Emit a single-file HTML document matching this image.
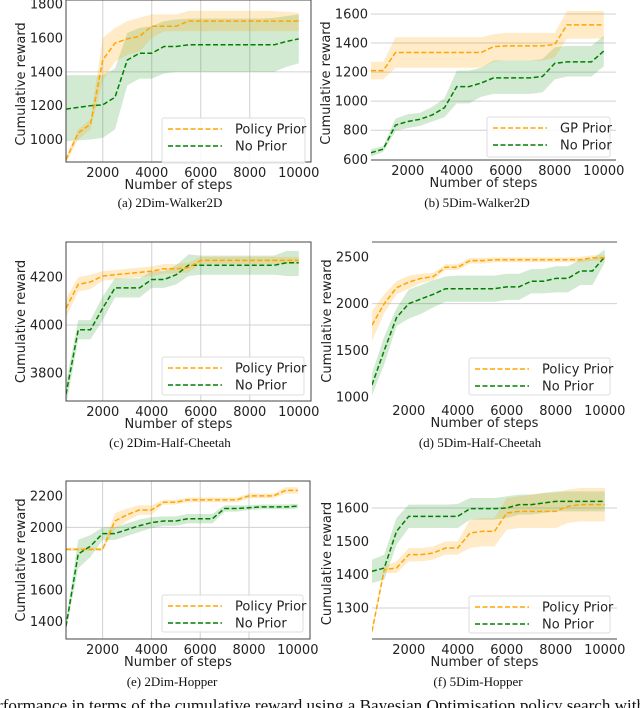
<!DOCTYPE html>
<html><head><meta charset="utf-8"><style>
body{margin:0;background:#fff;width:640px;height:708px;overflow:hidden;position:relative}
svg{position:absolute;left:0;top:0}
text{font-family:"DejaVu Sans","Liberation Sans",sans-serif;fill:#222}
.cap{font-family:"Liberation Serif",serif;font-size:13px;fill:#111}
</style></head><body>
<svg id="fig" width="640" height="708" xmlns="http://www.w3.org/2000/svg"></svg>
<script>
const steps=[500,1000,1500,2000,2500,3000,3500,4000,4500,5000,5500,6000,6500,7000,7500,8000,8500,9000,9500,10000];
const xTicks=[2000,4000,6000,8000,10000];
// (a)
const aPol=[880,1040,1090,1470,1570,1595,1610,1670,1670,1670,1700,1700,1700,1700,1700,1700,1700,1700,1700,1700];
const aPolHi=[900,1060,1120,1600,1660,1700,1720,1740,1740,1740,1760,1760,1760,1760,1760,1760,1760,1760,1755,1750];
const aPolLo=[860,1000,1060,1350,1460,1500,1520,1600,1640,1640,1640,1640,1640,1640,1640,1640,1640,1640,1640,1640];
const aNo=[1180,1190,1200,1205,1250,1470,1510,1510,1550,1550,1560,1560,1560,1560,1560,1560,1560,1560,1580,1595];
const aNoHi=[1380,1380,1380,1380,1420,1630,1660,1670,1700,1710,1715,1715,1715,1715,1715,1715,1715,1720,1730,1740];
const aNoLo=[990,995,1000,1010,1060,1320,1360,1360,1390,1400,1400,1400,1400,1400,1400,1400,1400,1400,1430,1450];
const aYTicks=[1000,1200,1400,1600,1800];
// (b)
const bPol=[1210,1210,1335,1335,1335,1335,1335,1335,1335,1335,1375,1380,1380,1380,1380,1390,1525,1525,1525,1525];
const bPolHi=[1270,1270,1440,1440,1440,1440,1440,1440,1440,1440,1460,1470,1470,1470,1470,1470,1620,1620,1620,1620];
const bPolLo=[1150,1150,1230,1230,1230,1230,1230,1230,1230,1230,1270,1280,1280,1280,1280,1300,1430,1430,1430,1430];
const bNo=[645,670,835,860,875,905,955,1100,1100,1125,1160,1160,1160,1160,1170,1260,1270,1270,1270,1345];
const bNoHi=[670,690,880,910,920,960,1020,1210,1210,1230,1280,1280,1280,1280,1290,1370,1380,1380,1380,1450];
const bNoLo=[620,650,795,815,830,860,890,985,985,1030,1050,1050,1050,1050,1060,1150,1170,1170,1170,1240];
const bYTicks=[600,800,1000,1200,1400,1600];
// (c)
const cPol=[4070,4170,4180,4205,4210,4215,4220,4225,4235,4235,4240,4270,4270,4270,4270,4270,4270,4270,4270,4270];
const cPolHi=[4110,4200,4210,4225,4230,4235,4240,4245,4255,4255,4260,4285,4285,4285,4285,4285,4285,4285,4285,4285];
const cPolLo=[4030,4140,4150,4185,4190,4195,4200,4205,4215,4215,4220,4255,4255,4255,4255,4255,4255,4255,4255,4255];
const cNo=[3710,3980,3980,4070,4155,4155,4155,4190,4190,4210,4250,4250,4250,4250,4250,4250,4250,4250,4260,4260];
const cNoHi=[3760,4020,4020,4120,4195,4195,4195,4225,4225,4250,4295,4290,4290,4290,4290,4290,4290,4290,4310,4310];
const cNoLo=[3660,3940,3940,4020,4115,4115,4115,4155,4155,4170,4205,4210,4210,4210,4210,4210,4210,4210,4205,4205];
const cYTicks=[3800,4000,4200];
// (d)
const dPol=[1770,2000,2170,2230,2270,2290,2390,2390,2460,2460,2470,2470,2470,2470,2470,2470,2470,2470,2490,2490];
const dPolHi=[1920,2100,2240,2300,2320,2330,2420,2420,2490,2490,2495,2495,2495,2495,2495,2495,2495,2500,2520,2520];
const dPolLo=[1600,1900,2100,2160,2220,2250,2360,2360,2430,2430,2445,2445,2445,2445,2445,2445,2445,2440,2460,2460];
const dNo=[1130,1500,1850,2000,2050,2100,2160,2160,2160,2160,2160,2180,2180,2240,2240,2270,2270,2350,2350,2500];
const dNoHi=[1250,1650,1950,2150,2200,2250,2290,2300,2300,2300,2300,2320,2320,2370,2370,2400,2400,2470,2480,2580];
const dNoLo=[1020,1350,1760,1840,1890,1960,2020,2020,2020,2020,2020,2040,2040,2110,2110,2120,2120,2200,2200,2440];
const dYTicks=[1000,1500,2000,2500];
// (e)
const ePol=[1860,1860,1860,1860,2040,2080,2110,2110,2160,2160,2175,2175,2175,2175,2175,2200,2200,2200,2235,2235];
const ePolHi=[1870,1870,1870,1870,2090,2120,2140,2140,2175,2175,2190,2190,2190,2190,2190,2215,2215,2215,2255,2255];
const ePolLo=[1850,1850,1850,1850,1990,2040,2080,2080,2145,2145,2160,2160,2160,2160,2160,2185,2185,2185,2215,2215];
const eNo=[1370,1830,1880,1960,1960,1985,2010,2030,2040,2040,2055,2055,2055,2120,2120,2125,2130,2130,2130,2135];
const eNoHi=[1400,1920,1950,2000,2000,2025,2050,2065,2070,2070,2085,2085,2085,2140,2140,2140,2145,2145,2145,2150];
const eNoLo=[1340,1740,1810,1920,1920,1945,1970,1995,2010,2010,2025,2025,2025,2100,2100,2110,2115,2115,2115,2120];
const eYTicks=[1400,1600,1800,2000,2200];
// (f)
const fPol=[1230,1415,1420,1460,1460,1465,1480,1480,1525,1530,1530,1585,1590,1590,1590,1590,1605,1610,1610,1610];
const fPolHi=[1240,1425,1440,1480,1480,1485,1500,1500,1565,1570,1570,1630,1635,1640,1645,1645,1655,1660,1660,1660];
const fPolLo=[1220,1405,1405,1440,1440,1445,1460,1460,1480,1485,1485,1535,1540,1540,1540,1540,1555,1560,1560,1560];
const fNo=[1410,1420,1530,1575,1575,1575,1575,1575,1598,1598,1598,1600,1610,1610,1615,1620,1620,1620,1620,1620];
const fNoHi=[1445,1460,1570,1610,1610,1610,1610,1612,1630,1630,1630,1635,1640,1640,1645,1650,1650,1650,1650,1650];
const fNoLo=[1375,1385,1490,1540,1540,1540,1540,1540,1565,1565,1565,1570,1580,1580,1585,1590,1590,1590,1590,1590];
const fYTicks=[1300,1400,1500,1600];

const NS="http://www.w3.org/2000/svg";
const svg=document.getElementById('fig');
function mk(tag,attrs,parent){const e=document.createElementNS(NS,tag);for(const k in attrs)e.setAttribute(k,attrs[k]);(parent||svg).appendChild(e);return e;}

const panels=[
 {id:'a',L:66,R:311,T:0,B:162,y0:867,y1:1825,yt:aYTicks,pol:aPol,polHi:aPolHi,polLo:aPolLo,no:aNo,noHi:aNoHi,noLo:aNoLo,first:'Policy Prior',leg:[162,118,305,163],frame:'full',vgrid:true,hgrid:[1400],cap:'(a) 2Dim-Walker2D',capX:170,capY:207},
 {id:'b',L:371,R:616,T:0,B:160,y0:595,y1:1696,yt:bYTicks,pol:bPol,polHi:bPolHi,polLo:bPolLo,no:bNo,noHi:bNoHi,noLo:bNoLo,first:'GP Prior',leg:[487,117,610,157],frame:'bottom',vgrid:false,hgrid:[800,1000,1200,1400,1600],cap:'(b) 5Dim-Walker2D',capX:477,capY:207},
 {id:'c',L:66,R:311,T:242,B:401,y0:3682,y1:4347,yt:cYTicks,pol:cPol,polHi:cPolHi,polLo:cPolLo,no:cNo,noHi:cNoHi,noLo:cNoLo,first:'Policy Prior',leg:[162,357,304,395],frame:'full',vgrid:true,hgrid:[4000],cap:'(c) 2Dim-Half-Cheetah',capX:170,capY:447},
 {id:'d',L:372,R:617,T:242,B:400,y0:968,y1:2660,yt:dYTicks,pol:dPol,polHi:dPolHi,polLo:dPolLo,no:dNo,noHi:dNoHi,noLo:dNoLo,first:'Policy Prior',leg:[469,358,610,395],frame:'top',vgrid:false,hgrid:[2000],cap:'(d) 5Dim-Half-Cheetah',capX:480,capY:447},
 {id:'e',L:66,R:310,T:481,B:639,y0:1289,y1:2295,yt:eYTicks,pol:ePol,polHi:ePolHi,polLo:ePolLo,no:eNo,noHi:eNoHi,noLo:eNoLo,first:'Policy Prior',leg:[162,595,303,632],frame:'full',vgrid:true,hgrid:[2000],cap:'(e) 2Dim-Hopper',capX:172,capY:686},
 {id:'f',L:372,R:617,T:488,B:639,y0:1207,y1:1660,yt:fYTicks,pol:fPol,polHi:fPolHi,polLo:fPolLo,no:fNo,noHi:fNoHi,noLo:fNoLo,first:'Policy Prior',leg:[469,596,610,633],frame:'bottom',vgrid:false,hgrid:[1300,1600],cap:'(f) 5Dim-Hopper',capX:478,capY:686}
];
const X0=500,X1=10500;
panels.forEach(p=>{
 const g=mk('g',{});
 
 
 const cp=mk('clipPath',{id:'clip'+p.id},g);mk('rect',{x:p.L,y:p.T,width:p.R-p.L,height:p.B-p.T},cp);
 const xs=v=>p.L+(v-X0)/(X1-X0)*(p.R-p.L);
 const ys=v=>p.B-(v-p.y0)/(p.y1-p.y0)*(p.B-p.T);
 if(p.vgrid) xTicks.slice(0,4).forEach(t=>{const l=mk('line',{x1:xs(t),x2:xs(t),y1:p.T,y2:p.B,stroke:'#d0d0d0','stroke-width':1},g);});
 p.hgrid.forEach(t=>{const l=mk('line',{x1:p.L,x2:p.R,y1:ys(t),y2:ys(t),stroke:'#d0d0d0','stroke-width':1},g);});
 const pg=mk('g',{'clip-path':'url(#clip'+p.id+')'},g);
 function band(hi,lo,col,name){let d='M'+steps.map((s,i)=>xs(s)+','+ys(hi[i])).join('L');for(let i=steps.length-1;i>=0;i--)d+='L'+xs(steps[i])+','+ys(lo[i]);d+='Z';const e=mk('path',{d:d,fill:col,'fill-opacity':0.22,stroke:'none'},pg);}
 function line(v,col,name){const e=mk('polyline',{points:steps.map((s,i)=>xs(s)+','+ys(v[i])).join(' '),fill:'none',stroke:col,'stroke-width':1.5,'stroke-dasharray':'5,2.5'},pg);}
 band(p.noHi,p.noLo,'#2ca02c','no-prior-band');
 band(p.polHi,p.polLo,'#ffa500','prior-band');
 line(p.no,'#008000','no-prior-line');
 line(p.pol,'#ffa500','prior-line');
 const sc='#444';
 if(p.frame==='full'){const r=mk('rect',{x:p.L,y:p.T,width:p.R-p.L,height:p.B-p.T,fill:'none',stroke:sc,'stroke-width':1},g);}
 else if(p.frame==='bottom'){const r=mk('line',{x1:p.L,x2:p.R,y1:p.B,y2:p.B,stroke:sc,'stroke-width':1},g);}
 else {const r=mk('line',{x1:p.L,x2:p.R,y1:p.T,y2:p.T,stroke:'#777','stroke-width':1.2},g);}
 xTicks.forEach(t=>{const e=mk('text',{x:xs(t),y:p.B+15,'text-anchor':'middle','font-size':13},g);e.textContent=t;});
 p.yt.forEach(t=>{const e=mk('text',{x:p.L-3,y:ys(t)+4.5,'text-anchor':'end','font-size':13},g);e.textContent=t;});
 const xl=mk('text',{x:(p.L+p.R)/2-10,y:p.B+27,'text-anchor':'middle','font-size':13},g);xl.textContent='Number of steps';
 const yc=(p.T+p.B)/2+ (p.T===0?3:0), yx=p.L-41;
 const yl=mk('text',{x:yx,y:yc,'text-anchor':'middle','font-size':13,transform:'rotate(-90 '+yx+' '+yc+')'},g);yl.textContent='Cumulative reward';
 const [lx,ly,lx2,ly2]=p.leg;
 const lg=mk('g',{},g);
 mk('rect',{x:lx,y:ly,width:lx2-lx,height:ly2-ly,rx:2,fill:'#fff','fill-opacity':0.85,stroke:'#ddd'},lg);
 [[p.first,'#ffa500',ly+11],['No Prior','#008000',ly+28]].forEach(([t,c,yy])=>{
  const le=mk('g',{},lg);
  mk('line',{x1:lx+6,x2:lx+60,y1:yy,y2:yy,stroke:c,'stroke-width':1.5,'stroke-dasharray':'5,2.5'},le);
  const tx=mk('text',{x:lx+73,y:yy+4.5,'font-size':13},le);tx.textContent=t;
 });
 const cap=mk('text',{x:p.capX,y:p.capY,'text-anchor':'middle',class:'cap'},g);cap.textContent=p.cap;
});
const fc=mk('text',{x:-20,y:711,class:'cap',style:'font-size:17px',textLength:665,lengthAdjust:'spacingAndGlyphs'});
fc.textContent='Performance in terms of the cumulative reward using a Bayesian Optimisation policy search with';


</script>
</body></html>
